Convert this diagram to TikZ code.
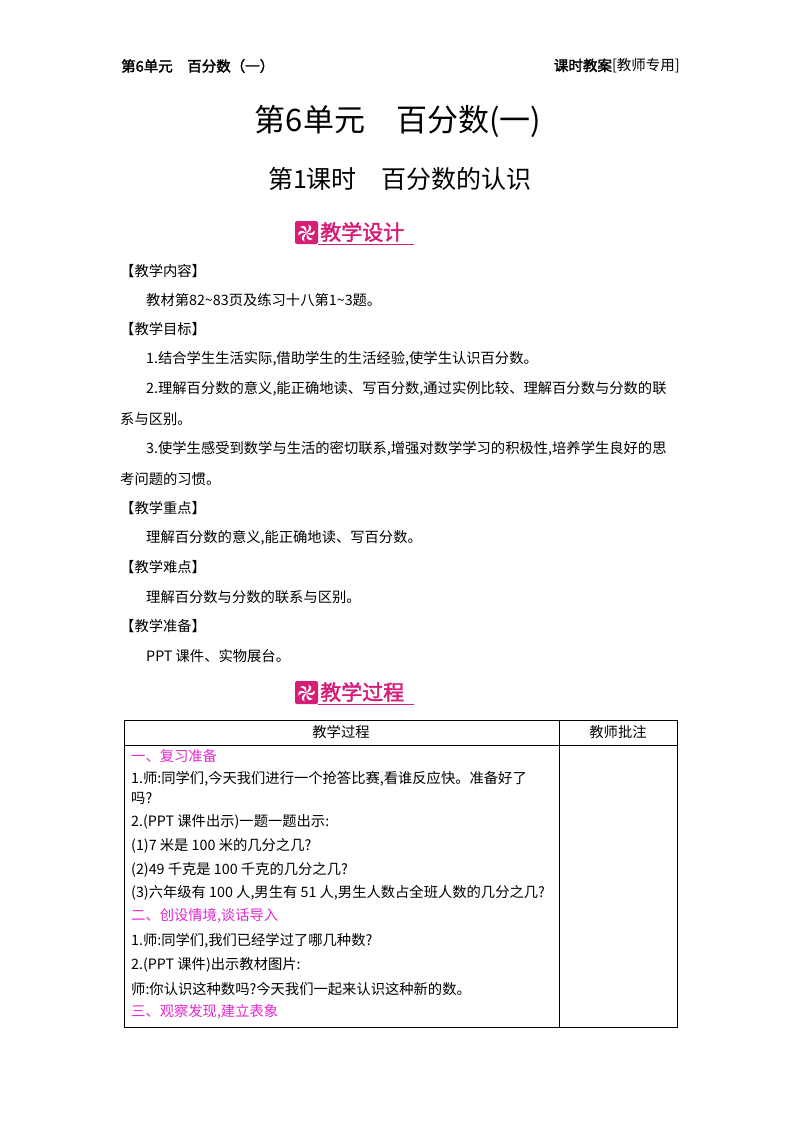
\documentclass[tikz,border=0pt]{standalone}
\usepackage{fontspec}
\setmainfont{Liberation Serif}
\newfontfamily\cjk{Noto Sans CJK SC}
\newfontfamily\cjkb{Noto Sans CJK SC}[FakeBold=2]
\definecolor{mag}{RGB}{230,40,210}
\definecolor{badge}{RGB}{214,30,120}
\tikzset{body/.style={anchor=west,inner sep=0,font=\cjk\fontsize{14.3}{16}\selectfont},
 pinkt/.style={body,text=mag},
 hd/.style={anchor=west,inner sep=0,font=\cjk\fontsize{14.5}{16}\selectfont}}
\begin{document}
\begin{tikzpicture}[x=1pt,y=-1pt]
\useasboundingbox (0,0) rectangle (800,1132);
\fill[white] (0,0) rectangle (800,1132);
\node[hd] (h1) at (121,66) {\cjkb 第6单元\quad 百分数（一）};
\node[hd,anchor=east] (h2) at (680,66) {\cjkb 课时教案\cjk[教师专用]};
\node[inner sep=0,font=\cjk\fontsize{31}{34}\selectfont] (t1) at (398,121) {第6单元\quad 百分数(一)};
\node[inner sep=0,font=\cjk\fontsize{25}{28}\selectfont] (t2) at (400,179) {第1课时\quad 百分数的认识};
% badges
\foreach \y/\t/\n in {233/教学设计/b1,693/教学过程/b2}{
 \fill[badge,rounded corners=2] (295,\y-12) rectangle (318,\y+11);
 \foreach \a in {0,60,...,300}{\fill[white,rotate around={\a:(306.5,\y)}] (306.5,\y) .. controls (311.5,\y-2) and (313.5,\y-6) .. (308.5,\y-8.5) .. controls (309.5,\y-5) .. (306.5,\y) -- cycle;}
 \node[anchor=west,inner sep=0,text=badge,font=\cjkb\fontsize{21}{24}\selectfont] (\n) at (320,\y-1) {\t};
 \draw[badge,line width=1] (318,\y+11.5) -- (414,\y+11.5);
}
\node[body] (s1) at (120,271) {【教学内容】};
\node[body] (s2) at (146,300) {教材第82\textasciitilde83页及练习十八第1\textasciitilde3题。};
\node[body] (s3) at (120,329) {【教学目标】};
\node[body] (s4) at (146,359) {1.结合学生生活实际,借助学生的生活经验,使学生认识百分数。};
\node[body] (s5) at (146,389) {2.理解百分数的意义,能正确地读、写百分数,通过实例比较、理解百分数与分数的联};
\node[body] (s6) at (120,419) {系与区别。};
\node[body] (s7) at (146,449) {3.使学生感受到数学与生活的密切联系,增强对数学学习的积极性,培养学生良好的思};
\node[body] (s8) at (120,479) {考问题的习惯。};
\node[body] (s9) at (120,508) {【教学重点】};
\node[body] (s10) at (146,538) {理解百分数的意义,能正确地读、写百分数。};
\node[body] (s11) at (120,567) {【教学难点】};
\node[body] (s12) at (146,597) {理解百分数与分数的联系与区别。};
\node[body] (s13) at (120,626) {【教学准备】};
\node[body] (s14) at (146,656) {PPT 课件、实物展台。};
% table
\draw[line width=0.8] (124,720) rectangle (677,1027);
\draw[line width=0.6] (124,745) -- (677,745);
\draw[line width=0.6] (559,720) -- (559,1027);
\node[body,anchor=center] (c1) at (341,732) {教学过程};
\node[body,anchor=center] (c2) at (618,732) {教师批注};
\node[pinkt] (r1) at (131,756) {一、复习准备};
\node[body] (r2) at (131,779) {1.师:同学们,今天我们进行一个抢答比赛,看谁反应快。准备好了};
\node[body] (r3) at (131,798) {吗?};
\node[body] (r4) at (131,822) {2.(PPT 课件出示)一题一题出示:};
\node[body] (r5) at (131,846) {(1)7 米是 100 米的几分之几?};
\node[body] (r6) at (131,870) {(2)49 千克是 100 千克的几分之几?};
\node[body] (r7) at (131,893) {(3)六年级有 100 人,男生有 51 人,男生人数占全班人数的几分之几?};
\node[pinkt] (r8) at (131,916) {二、创设情境,谈话导入};
\node[body] (r9) at (131,941) {1.师:同学们,我们已经学过了哪几种数?};
\node[body] (r10) at (131,965) {2.(PPT 课件)出示教材图片:};
\node[body] (r11) at (131,989) {师:你认识这种数吗?今天我们一起来认识这种新的数。};
\node[pinkt] (r12) at (131,1012) {三、观察发现,建立表象};
\end{tikzpicture}
\end{document}
